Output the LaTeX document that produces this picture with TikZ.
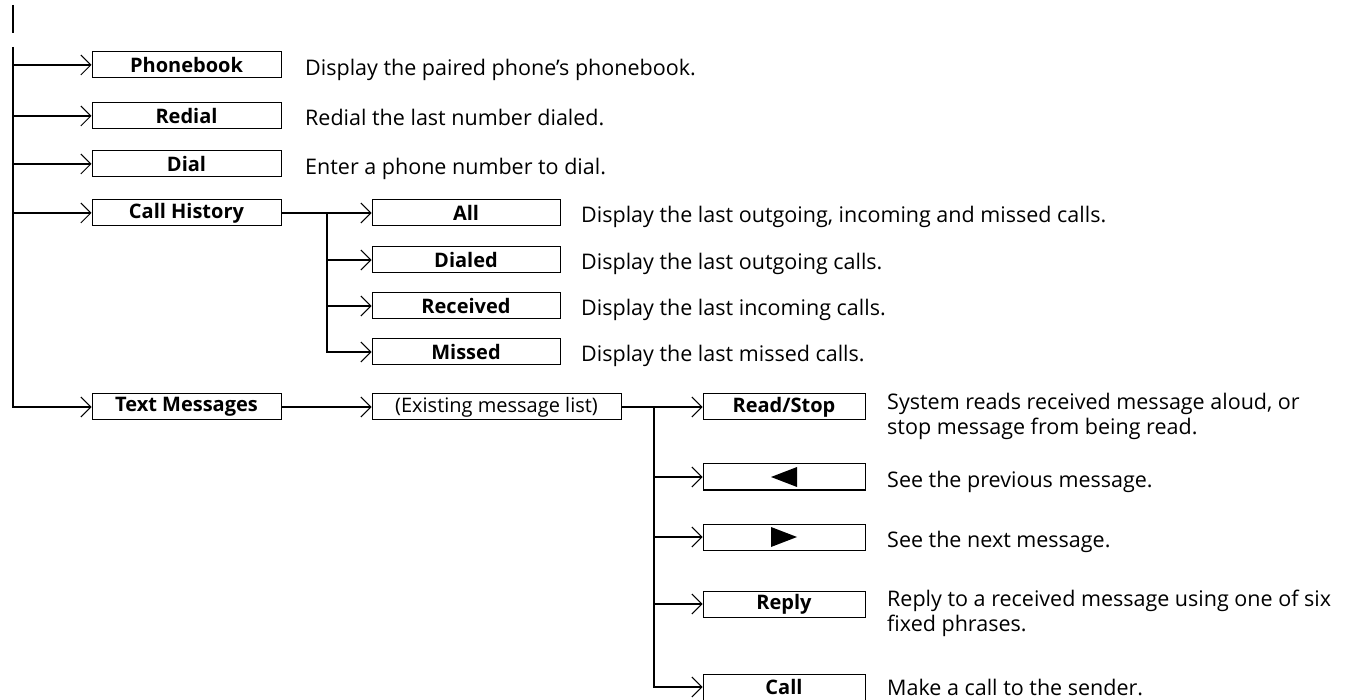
\documentclass[tikz,border=0pt]{standalone}
\usepackage{fontspec}
\setmainfont{Open Sans}
\usetikzlibrary{arrows.meta}
\begin{document}
\begin{tikzpicture}[x=1pt,y=-1pt,
  box/.style={draw,line width=1pt,minimum height=26pt,inner sep=0pt,
    font=\fontsize{20}{24}\selectfont\bfseries},
  lone/.style={box,minimum width=189pt},
  ltwo/.style={box,minimum width=188pt},
  lthree/.style={box,minimum width=162pt},
  desc/.style={anchor=base west,inner sep=0pt,font=\fontsize{21.5}{24.5}\selectfont},
  desctwo/.style={anchor=north west,inner sep=0pt,align=left,font=\fontsize{21.5}{24.5}\selectfont},
  conn/.style={line width=2.2pt},
  arr/.style={conn,-{Straight Barb[length=10pt,width=20pt,line width=1pt]}},
]
\useasboundingbox (0,0) rectangle (1350,700);

% level 1
\node[lone] (pb) at (186.5,65) {Phonebook};
\node[lone] (rd) at (186.5,116) {Redial};
\node[lone] (dl) at (186.5,164) {Dial};
\node[lone] (ch) at (186.5,213) {Call History};
\node[lone] (tm) at (186.5,407) {Text Messages};

% level 2
\node[ltwo] (all) at (466,213) {All};
\node[ltwo] (dia) at (466,260) {Dialed};
\node[ltwo] (rec) at (466,306) {Received};
\node[ltwo] (mis) at (466,352) {Missed};
\node[box,minimum width=249pt,font=\fontsize{20}{24}\selectfont] (ex) at (496.5,407) {(Existing message list)};

% level 3
\node[lthree] (rs) at (784,407) {Read/Stop};
\node[lthree] (pv) at (784,477) {};
\node[lthree] (nx) at (784,537) {};
\node[lthree] (rp) at (784,604) {Reply};
\node[lthree] (cl) at (784,687) {Call};

\fill (pv.center) ++(-13,0) -- ++(26,-10) -- ++(0,20) -- cycle;
\fill (nx.center) ++(13,0) -- ++(-26,-10) -- ++(0,20) -- cycle;

% connectors
\coordinate (ta) at (13,5);
\coordinate (tb) at (13,33);
\draw[conn] (ta) -- (tb);
\coordinate (m0) at (13,47);
\draw[arr] (m0) |- (tm.west);
\draw[arr] (pb.west -| m0) -- (pb.west);
\draw[arr] (rd.west -| m0) -- (rd.west);
\draw[arr] (dl.west -| m0) -- (dl.west);
\draw[arr] (ch.west -| m0) -- (ch.west);

\coordinate (jb) at (327,0);
\draw[arr] (ch.east) -- (all.west);
\draw[arr] (ch.east -| jb) |- (mis.west);
\draw[arr] (dia.west -| jb) -- (dia.west);
\draw[arr] (rec.west -| jb) -- (rec.west);

\draw[arr] (tm.east) -- (ex.west);

\coordinate (jc) at (654,0);
\draw[arr] (ex.east) -- (rs.west);
\draw[arr] (ex.east -| jc) |- (cl.west);
\draw[arr] (pv.west -| jc) -- (pv.west);
\draw[arr] (nx.west -| jc) -- (nx.west);
\draw[arr] (rp.west -| jc) -- (rp.west);

% descriptions
\node[desc] (dpb) at (305,76) {Display the paired phone’s phonebook.};
\node[desc] (drd) at (305,126) {Redial the last number dialed.};
\node[desc] (ddl) at (305,175) {Enter a phone number to dial.};
\node[desc] (dall) at (581,223) {Display the last outgoing, incoming and missed calls.};
\node[desc] (ddia) at (581,270) {Display the last outgoing calls.};
\node[desc] (drec) at (581,316) {Display the last incoming calls.};
\node[desc] (dmis) at (581,362) {Display the last missed calls.};
\node[desctwo] (drs) at (887,393) {System reads received message aloud, or\\stop message from being read.};
\node[desc] (dpv) at (887,487) {See the previous message.};
\node[desc] (dnx) at (887,547) {See the next message.};
\node[desctwo] (drp) at (887,590) {Reply to a received message using one of six\\fixed phrases.};
\node[desc] (dcl) at (887,695) {Make a call to the sender.};
\end{tikzpicture}
\end{document}
